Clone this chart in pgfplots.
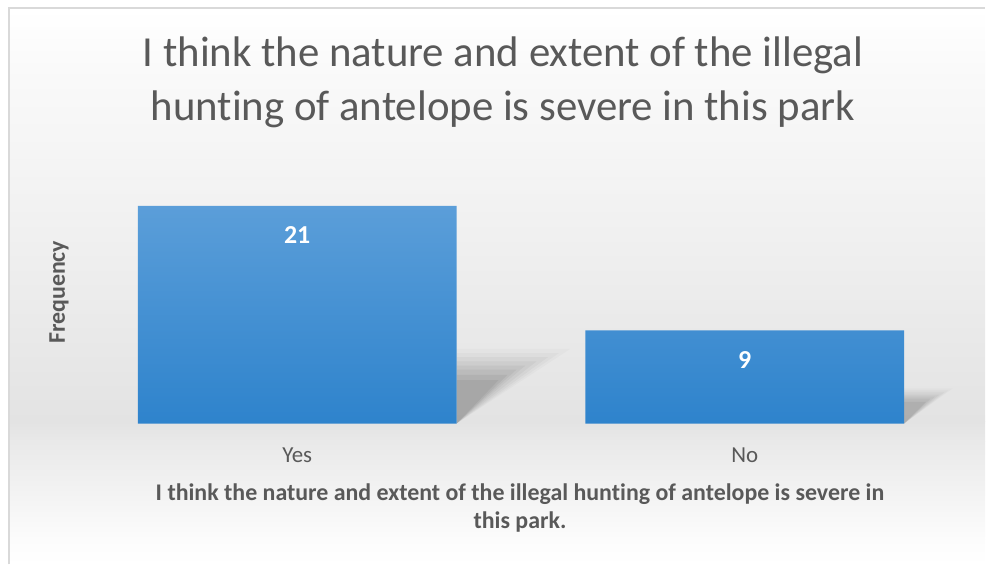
\documentclass[border=0pt]{standalone}
\usepackage{pgfplots}
\pgfplotsset{compat=1.18}
\usepackage{fontspec}
\setmainfont{Carlito}[Ligatures=NoCommon]
\definecolor{txtgray}{HTML}{595959}
\definecolor{bartop}{HTML}{5B9ED9}
\definecolor{barbot}{HTML}{2E83CC}
\definecolor{framegray}{HTML}{D9D9D9}
\begin{document}
\begin{tikzpicture}[x=1bp,y=1bp]
% page and background
\fill[white] (0,0) rectangle (986,565);
\shade[top color=white, bottom color={rgb,255:red,249;green,249;blue,249}, draw=none] (9,565-9) rectangle (986,565-80);
\shade[top color={rgb,255:red,249;green,249;blue,249}, bottom color={rgb,255:red,241;green,241;blue,241}, draw=none] (9,565-80) rectangle (986,565-220);
\shade[top color={rgb,255:red,241;green,241;blue,241}, bottom color={rgb,255:red,227;green,227;blue,227}, draw=none] (9,565-220) rectangle (986,565-422);
\shade[top color={rgb,255:red,227;green,227;blue,227}, bottom color={rgb,255:red,233;green,233;blue,233}, draw=none] (9,565-422) rectangle (986,565-442);
\shade[top color={rgb,255:red,233;green,233;blue,233}, bottom color={rgb,255:red,252;green,252;blue,252}, draw=none] (9,565-442) rectangle (986,565-540);
\shade[top color={rgb,255:red,252;green,252;blue,252}, bottom color=white, draw=none] (9,565-540) rectangle (986,0);
\draw[framegray, line width=2bp] (9,0) -- (9,565-8) -- (986,565-8);
% title
\node[font=\fontsize{43}{50}\selectfont, text=txtgray, anchor=base] at (503.5,565-67) {I think the nature and extent of the illegal};
\node[font=\fontsize{43}{50}\selectfont, text=txtgray, anchor=base] at (503.5,565-121) {hunting of antelope is severe in this park};
% axis title
\node[font=\fontsize{24}{28}\selectfont\bfseries, text=txtgray, anchor=base] at (520.5,565-501) {I think the nature and extent of the illegal hunting of antelope is severe in};
\node[font=\fontsize{24}{28}\selectfont\bfseries, text=txtgray, anchor=base] at (520.5,565-529) {this park.};
\node[font=\fontsize{24}{28}\selectfont\bfseries, text=txtgray, anchor=base, rotate=90] at (65,565-292.5) {Frequency};
\begin{axis}[
  at={(73.5bp,141bp)}, anchor=south west,
  scale only axis, width=896bp, height=249bp,
  xmin=-0.5, xmax=1.5, ymin=0, ymax=24,
  axis x line*=bottom, axis y line*=left,
  x axis line style={draw=none}, y axis line style={draw=none},
  ytick=\empty, xtick={0,1}, xticklabels={Yes,No},
  major tick length=0pt,
  xticklabel style={font=\fontsize{23}{26}\selectfont, text=txtgray, anchor=base, yshift=-39bp},
  /pgf/number format/assume math mode=true,
  ybar, bar width=319bp, bar shift=0pt,
  nodes near coords,
  nodes near coords style={font=\fontsize{26}{28}\selectfont\bfseries, text=white, anchor=base, yshift=-38bp},
]
% soft shadows behind bars
\fill[black, opacity=0.02] (axis cs:0.356,0) -- (axis cs:0.356,7.2) -- (axis cs:0.61,7.2) -- cycle;
\fill[black, opacity=0.025] (axis cs:0.356,0) -- (axis cs:0.356,6.8) -- (axis cs:0.585,6.8) -- cycle;
\fill[black, opacity=0.03] (axis cs:0.356,0) -- (axis cs:0.356,6.4) -- (axis cs:0.56,6.4) -- cycle;
\fill[black, opacity=0.035] (axis cs:0.356,0) -- (axis cs:0.356,6.0) -- (axis cs:0.535,6.0) -- cycle;
\fill[black, opacity=0.04] (axis cs:0.356,0) -- (axis cs:0.356,5.6) -- (axis cs:0.51,5.6) -- cycle;
\fill[black, opacity=0.045] (axis cs:0.356,0) -- (axis cs:0.356,5.2) -- (axis cs:0.49,5.2) -- cycle;
\fill[black, opacity=0.05] (axis cs:0.356,0) -- (axis cs:0.356,4.7) -- (axis cs:0.47,4.7) -- cycle;
\fill[black, opacity=0.05] (axis cs:0.356,0) -- (axis cs:0.356,4.2) -- (axis cs:0.45,4.2) -- cycle;
\fill[black, opacity=0.02] (axis cs:1.356,0) -- (axis cs:1.356,3.4) -- (axis cs:1.465,3.4) -- cycle;
\fill[black, opacity=0.025] (axis cs:1.356,0) -- (axis cs:1.356,3.2) -- (axis cs:1.455,3.2) -- cycle;
\fill[black, opacity=0.03] (axis cs:1.356,0) -- (axis cs:1.356,3.0) -- (axis cs:1.445,3.0) -- cycle;
\fill[black, opacity=0.035] (axis cs:1.356,0) -- (axis cs:1.356,2.8) -- (axis cs:1.435,2.8) -- cycle;
\fill[black, opacity=0.04] (axis cs:1.356,0) -- (axis cs:1.356,2.6) -- (axis cs:1.425,2.6) -- cycle;
\fill[black, opacity=0.045] (axis cs:1.356,0) -- (axis cs:1.356,2.4) -- (axis cs:1.415,2.4) -- cycle;
\fill[black, opacity=0.05] (axis cs:1.356,0) -- (axis cs:1.356,2.1) -- (axis cs:1.405,2.1) -- cycle;
\addplot[draw=none, top color=bartop, bottom color=barbot] coordinates {(0,21) (1,9)};
\end{axis}
\end{tikzpicture}
\end{document}
